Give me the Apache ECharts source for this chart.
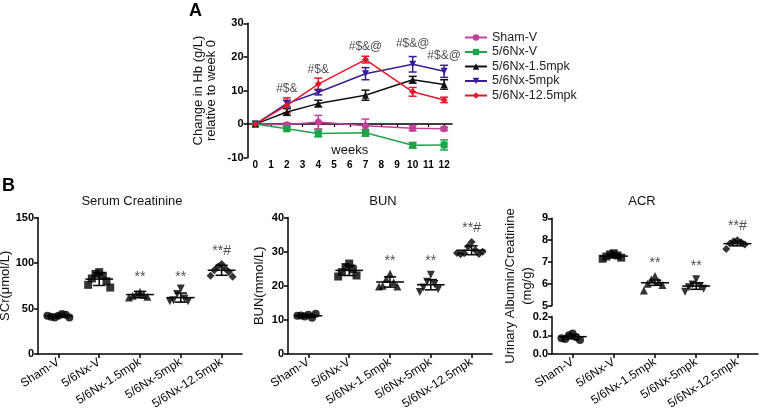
<!DOCTYPE html>
<html>
<head>
<meta charset="utf-8">
<script src="https://cdn.jsdelivr.net/npm/echarts@6/dist/echarts.min.js"></script>
<style>
html, body { margin: 0; padding: 0; background: #fff; }
#chart { width: 760px; height: 416px; }
</style>
</head>
<body>
<div id="chart"></div>
<script>
var FONT = 'Arial, "Liberation Sans", sans-serif';

// groups
var groups = ['Sham-V', '5/6Nx-V', '5/6Nx-1.5mpk', '5/6Nx-5mpk', '5/6Nx-12.5mpk'];
var groupColors = ['#c2409a', '#1fa34a', '#111111', '#3b1d92', '#e3192d'];
var groupSymbols = ['circle', 'rect', 'triangle', 'triangle', 'diamond'];
var groupRotate = [0, 0, 0, 180, 0];

// panel A - change in Hb
var weeks = [0, 2, 4, 7, 10, 12];
var weekTicks = [0, 1, 2, 3, 4, 5, 6, 7, 8, 9, 10, 11, 12];
var hbMean = [
    [0, -0.2, 0.6, -0.5, -1.2, -1.4],
    [0, -1.4, -2.8, -2.6, -6.3, -6.2],
    [0, 3.6, 6.1, 8.6, 13.2, 11.8],
    [0, 6.1, 9.5, 15.0, 17.8, 15.7],
    [0, 5.6, 11.9, 19.2, 9.6, 7.2]
];
var hbErr = [
    [0, 0.5, 2.0, 2.0, 0.8, 0.5],
    [0, 0.6, 1.0, 1.0, 0.8, 1.5],
    [0, 1.0, 1.0, 1.5, 1.0, 1.4],
    [0, 1.0, 0.8, 1.8, 2.3, 1.8],
    [0, 2.2, 1.8, 1.0, 1.3, 0.8]
];
var hbMarkWeeks = [2, 4, 7, 10, 12];
var hbMarkText = ['#$&', '#$&', '#$&@', '#$&@', '#$&@'];
var hbMarkY = [10.5, 16.2, 23.0, 23.9, 20.4];

// panel B - serum creatinine
var scrPoints = [
    [42, 40, 44, 41, 43, 42, 40],
    [90, 88, 86, 83, 80, 76, 73],
    [68, 66, 65, 64, 63, 62],
    [72, 66, 61, 59, 58, 58],
    [99, 96, 94, 92, 90, 86, 85]
];
var scrMean = [41.8, 82.3, 65.3, 62.0, 92.0];
var scrSd = [1.5, 7.0, 3.5, 5.0, 5.5];
var scrStarText = ['**', '**', '**#'];
var scrStarIdx = [2, 3, 4];
var scrStarY = [84, 84, 113];

// panel B - BUN
var bunPoints = [
    [11.5, 11.0, 10.6, 11.3, 11.8, 11.2],
    [26.5, 25.5, 24.8, 24.0, 23.0, 22.7],
    [23.5, 22.0, 21.0, 20.0, 19.8, 19.8],
    [23.2, 21.2, 20.5, 19.5, 19.0, 18.2],
    [32.8, 31.5, 30.5, 29.5, 29.3, 29.2, 30.0, 29.6]
];
var bunMean = [11.2, 24.5, 21.1, 20.3, 30.4];
var bunSd = [0.4, 1.5, 1.5, 1.5, 1.3];
var bunStarText = ['**', '**', '**#'];
var bunStarIdx = [2, 3, 4];
var bunStarY = [27.1, 27.1, 37.0];

// panel B - ACR (broken axis)
var acrPoints = [
    [0.11, 0.10, 0.09, 0.08, 0.075, 0.085],
    [7.40, 7.35, 7.30, 7.25, 7.20, 7.15],
    [6.36, 6.20, 6.10, 6.00, 5.95, 5.69],
    [6.21, 5.97, 5.90, 5.85, 5.78, 5.64],
    [8.00, 7.95, 7.90, 7.85, 7.80, 7.60]
];
var acrMean = [0.093, 7.27, 6.05, 5.90, 7.84];
var acrSd = [0.012, 0.08, 0.12, 0.15, 0.10];
var acrStarText = ['**', '**', '**#'];
var acrStarIdx = [2, 3, 4];
var acrStarY = [6.94, 6.82, 8.62];

var catTicks = [0, 1, 2, 3, 4];
var jitter = [0, -1, 1, -2, 2, -3, 3, -4];

function scatterData(points, which) {
    var out = [];
    points.forEach(function (pts, g) {
        if (which && which.indexOf(g) < 0) return;
        pts.forEach(function (v, i) {
            out.push({
                value: [g + jitter[i] * 0.09, v],
                symbol: groupSymbols[g],
                symbolRotate: groupRotate[g]
            });
        });
    });
    return out;
}

function statData(mean, sd, which) {
    var out = [];
    mean.forEach(function (m, g) {
        if (which && which.indexOf(g) < 0) return;
        out.push([g, m, sd[g]]);
    });
    return out;
}

function starData(idx, ys, texts) {
    return idx.map(function (g, i) { return { name: texts[i], value: [g, ys[i]] }; });
}

function nameOnly(p) { return p.name; }

function meanSdItem(params, api) {
    var x = api.value(0), m = api.value(1), s = api.value(2);
    var c = api.coord([x, m]);
    var top = api.coord([x, m + s]);
    var bot = api.coord([x, m - s]);
    var half = api.size([0.34, 0])[0];
    var cap = api.size([0.15, 0])[0];
    var st = { stroke: '#000', lineWidth: 1.5 };
    return {
        type: 'group',
        children: [
            { type: 'line', shape: { x1: c[0] - half, y1: c[1], x2: c[0] + half, y2: c[1] }, style: st },
            { type: 'line', shape: { x1: c[0], y1: top[1], x2: c[0], y2: bot[1] }, style: st },
            { type: 'line', shape: { x1: c[0] - cap, y1: top[1], x2: c[0] + cap, y2: top[1] }, style: st },
            { type: 'line', shape: { x1: c[0] - cap, y1: bot[1], x2: c[0] + cap, y2: bot[1] }, style: st }
        ]
    };
}

function errBarItem(color) {
    return function (params, api) {
        var x = api.value(0), m = api.value(1), e = api.value(2);
        if (!e) return null;
        var top = api.coord([x, m + e]);
        var bot = api.coord([x, m - e]);
        var st = { stroke: color, lineWidth: 1.5 };
        return {
            type: 'group',
            children: [
                { type: 'line', shape: { x1: top[0], y1: top[1], x2: bot[0], y2: bot[1] }, style: st },
                { type: 'line', shape: { x1: top[0] - 4, y1: top[1], x2: top[0] + 4, y2: top[1] }, style: st },
                { type: 'line', shape: { x1: bot[0] - 4, y1: bot[1], x2: bot[0] + 4, y2: bot[1] }, style: st }
            ]
        };
    };
}

var axisLine = { show: true, onZero: false, lineStyle: { color: '#000', width: 1.5 } };
var axisTick = { show: true, length: 4, lineStyle: { color: '#000', width: 1.5 } };
var yLabel = { color: '#000', fontSize: 11, fontWeight: 'bold', fontFamily: FONT, margin: 4 };
var nameStyle = { color: '#111', fontSize: 13, fontFamily: FONT };

function catAxis(grid, showLabels) {
    return {
        type: 'value', gridIndex: grid, min: -0.5, max: 4.5,
        show: showLabels,
        splitLine: { show: false },
        axisLine: axisLine,
        axisTick: { show: true, length: 4, lineStyle: { color: '#000', width: 1.5 }, customValues: catTicks },
        axisLabel: {
            customValues: catTicks, rotate: 33, margin: 7,
            color: '#000', fontSize: 12, fontFamily: FONT,
            formatter: function (v) { return groups[Math.round(v)]; }
        }
    };
}

function valAxis(grid, min, max, interval, name, gap, fmt) {
    return {
        type: 'value', gridIndex: grid, min: min, max: max, interval: interval,
        name: name, nameLocation: 'middle', nameGap: gap, nameTextStyle: nameStyle,
        splitLine: { show: false },
        axisLine: axisLine, axisTick: axisTick,
        axisLabel: fmt ? Object.assign({ formatter: fmt }, yLabel) : yLabel
    };
}

var series = [];

// panel A
groups.forEach(function (g, k) {
    series.push({
        name: 'err' + k, type: 'custom', xAxisIndex: 0, yAxisIndex: 0,
        renderItem: errBarItem(groupColors[k]),
        data: weeks.map(function (w, i) { return [w, hbMean[k][i], hbErr[k][i]]; }),
        z: 2
    });
});
groups.forEach(function (g, k) {
    series.push({
        name: g, type: 'line', xAxisIndex: 0, yAxisIndex: 0,
        data: weeks.map(function (w, i) { return [w, hbMean[k][i]]; }),
        symbol: groupSymbols[k], symbolRotate: groupRotate[k], symbolSize: 7,
        color: groupColors[k],
        lineStyle: { width: 1.5, color: groupColors[k] },
        itemStyle: { color: groupColors[k] },
        z: 3
    });
});
series.push({
    type: 'scatter', xAxisIndex: 0, yAxisIndex: 0, symbolSize: 1,
    itemStyle: { color: 'rgba(0,0,0,0)' },
    label: { show: true, position: 'inside', formatter: nameOnly, color: '#222', fontSize: 12, fontFamily: FONT },
    data: hbMarkWeeks.map(function (w, i) { return { name: hbMarkText[i], value: [w, hbMarkY[i]] }; })
});

function addPanel(xi, yi, points, mean, sd, stars, which) {
    series.push({
        type: 'scatter', xAxisIndex: xi, yAxisIndex: yi, symbolSize: 8,
        itemStyle: { color: '#000' }, data: scatterData(points, which), z: 2
    });
    series.push({
        type: 'custom', xAxisIndex: xi, yAxisIndex: yi, renderItem: meanSdItem,
        data: statData(mean, sd, which), z: 3
    });
    if (stars) {
        series.push({
            type: 'scatter', xAxisIndex: xi, yAxisIndex: yi, symbolSize: 1,
            itemStyle: { color: 'rgba(0,0,0,0)' },
            label: { show: true, position: 'inside', formatter: nameOnly, color: '#222', fontSize: 14, fontFamily: FONT },
            data: stars
        });
    }
}

addPanel(1, 1, scrPoints, scrMean, scrSd, starData(scrStarIdx, scrStarY, scrStarText));
addPanel(2, 2, bunPoints, bunMean, bunSd, starData(bunStarIdx, bunStarY, bunStarText));
addPanel(3, 3, acrPoints, acrMean, acrSd, starData(acrStarIdx, acrStarY, acrStarText), [1, 2, 3, 4]);
addPanel(4, 4, acrPoints, acrMean, acrSd, null, [0]);

var option = {
    animation: false,
    backgroundColor: '#fff',
    textStyle: { fontFamily: FONT },
    title: [
        { text: 'A', left: 184, top: -3, textStyle: { fontSize: 18, fontWeight: 'bold', color: '#000', fontFamily: FONT } },
        { text: 'B', left: -3, top: 172, textStyle: { fontSize: 18, fontWeight: 'bold', color: '#000', fontFamily: FONT } },
        { text: 'Serum Creatinine', left: 127, top: 190, textAlign: 'center', textStyle: { fontSize: 13, fontWeight: 'normal', color: '#111', fontFamily: FONT } },
        { text: 'BUN', left: 378, top: 190, textAlign: 'center', textStyle: { fontSize: 13, fontWeight: 'normal', color: '#111', fontFamily: FONT } },
        { text: 'ACR', left: 637, top: 190, textAlign: 'center', textStyle: { fontSize: 13, fontWeight: 'normal', color: '#111', fontFamily: FONT } }
    ],
    legend: {
        data: groups, orient: 'vertical', left: 464, top: 31, padding: 0,
        itemWidth: 22, itemHeight: 8, itemGap: 1.5,
        textStyle: { fontSize: 12.5, color: '#222', fontFamily: FONT }
    },
    graphic: [{
        type: 'text', x: 519, y: 286, rotation: Math.PI / 2,
        style: {
            text: 'Urinary Albumin/Creatinine\n(mg/g)', fill: '#111', font: '13px ' + FONT,
            textAlign: 'center', textVerticalAlign: 'middle', lineHeight: 17
        }
    }],
    grid: [
        { left: 247.5, top: 23.3, width: 204.5, height: 134.4, outerBoundsMode: 'none', containLabel: false },
        { left: 38, top: 217.5, width: 204, height: 136.5, outerBoundsMode: 'none', containLabel: false },
        { left: 288, top: 217.5, width: 204, height: 136.5, outerBoundsMode: 'none', containLabel: false },
        { left: 552, top: 218.3, width: 206, height: 87.4, outerBoundsMode: 'none', containLabel: false },
        { left: 552, top: 316.7, width: 206, height: 37.3, outerBoundsMode: 'none', containLabel: false }
    ],
    xAxis: [
        {
            type: 'value', gridIndex: 0, min: -0.5, max: 12.5,
            name: 'weeks', nameLocation: 'middle', nameGap: -14, nameMoveOverlap: false, nameTextStyle: nameStyle,
            splitLine: { show: false },
            axisLine: { show: true, onZero: true, lineStyle: { color: '#000', width: 1.5 } },
            axisTick: { show: true, length: 3, lineStyle: { color: '#000', width: 1.2 }, customValues: weekTicks },
            axisLabel: { customValues: weekTicks, color: '#000', fontSize: 10, fontWeight: 'bold', fontFamily: FONT, margin: 3 }
        },
        catAxis(1, true),
        catAxis(2, true),
        catAxis(3, false),
        catAxis(4, true)
    ],
    yAxis: [
        valAxis(0, -10, 30, 10, 'Change in Hb (g/L)\nrelative to week 0', 30),
        valAxis(1, 0, 150, 50, 'SCr(μmol/L)', 15),
        valAxis(2, 0, 40, 10, 'BUN(mmol/L)', 22),
        valAxis(3, 5, 9, 1, '', 20),
        valAxis(4, 0, 0.2, 0.1, '', 20, function (v) { return v.toFixed(1); })
    ],
    series: series
};

var chart = echarts.init(document.getElementById('chart'));
chart.setOption(option);
</script>
</body>
</html>
